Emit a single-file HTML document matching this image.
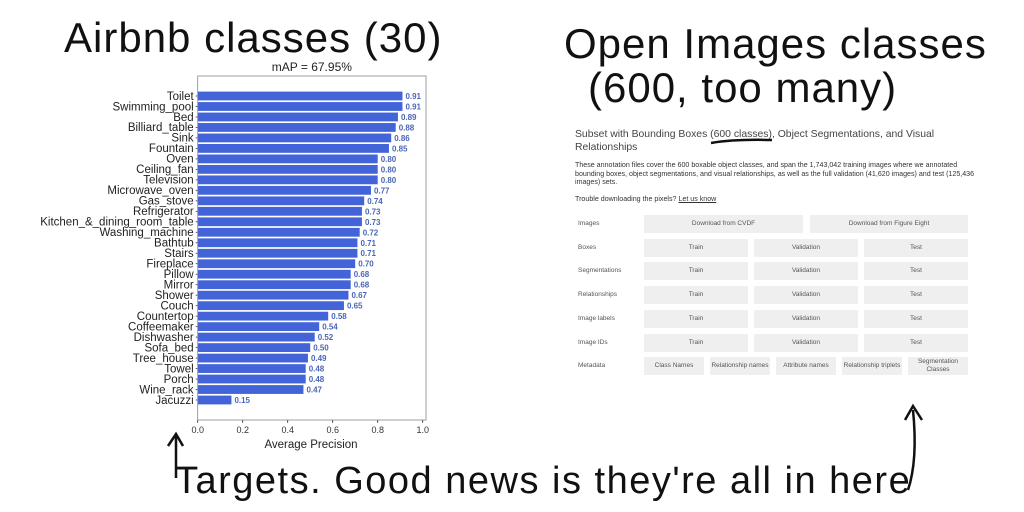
<!DOCTYPE html>
<html><head><meta charset="utf-8"><style>
body{margin:0;width:1024px;height:512px;background:#fff;overflow:hidden;position:relative;font-family:"Liberation Sans",sans-serif}
.hand{position:absolute;font-family:"Liberation Sans",sans-serif;font-weight:300;color:#111;letter-spacing:1px;white-space:nowrap}
.rp{position:absolute;color:#444}
.btn{position:absolute;background:#efefef;font-size:6.5px;color:#555;display:flex;align-items:center;justify-content:center;text-align:center;line-height:8px}
.lbl{position:absolute;font-size:6.5px;color:#555}
</style></head><body>
<div class="hand" style="left:64px;top:14px;font-size:42px;">Airbnb classes (30)</div>
<div class="hand" style="left:564px;top:20px;font-size:42px">Open Images classes</div>
<div class="hand" style="left:588px;top:64px;font-size:42px">(600, too many)</div>
<div class="hand" style="left:175px;top:460px;font-size:38px;letter-spacing:1.5px">Targets. Good news is they're all in here</div>

<svg width="1024" height="512" style="position:absolute;left:0;top:0">
<path d="M176 478 L176 436 M168 446 L176 434 L183 446" stroke="#111" stroke-width="2.5" fill="none"/>
<path d="M908 490 Q918 460 913 410 M905 420 L913 406 L922 420" stroke="#111" stroke-width="2.5" fill="none"/>
<path d="M711 143 Q735 139 772 140" stroke="#111" stroke-width="2.5" fill="none"/>
</svg>

<svg id="chart" width="460" height="460" style="position:absolute;left:0;top:0"></svg>

<div class="rp" style="left:575px;top:128px;font-size:10.4px;line-height:13px;width:390px">Subset with Bounding Boxes (600 classes), Object Segmentations, and Visual Relationships</div>
<div class="rp" style="left:575px;top:161px;font-size:7.1px;line-height:8.6px;width:405px;color:#333">These annotation files cover the 600 boxable object classes, and span the 1,743,042 training images where we annotated bounding boxes, object segmentations, and visual relationships, as well as the full validation (41,620 images) and test (125,436 images) sets.</div>
<div class="rp" style="left:575px;top:195px;font-size:7.1px;color:#333">Trouble downloading the pixels? <u>Let us know</u></div>
<div id="table"></div>

<script>
const categories=["Toilet","Swimming_pool","Bed","Billiard_table","Sink","Fountain","Oven","Ceiling_fan","Television","Microwave_oven","Gas_stove","Refrigerator","Kitchen_&_dining_room_table","Washing_machine","Bathtub","Stairs","Fireplace","Pillow","Mirror","Shower","Couch","Countertop","Coffeemaker","Dishwasher","Sofa_bed","Tree_house","Towel","Porch","Wine_rack","Jacuzzi"];
const values=[0.91,0.91,0.89,0.88,0.86,0.85,0.80,0.80,0.80,0.77,0.74,0.73,0.73,0.72,0.71,0.71,0.70,0.68,0.68,0.67,0.65,0.58,0.54,0.52,0.50,0.49,0.48,0.48,0.47,0.15];
const xTicks=[0,0.2,0.4,0.6,0.8,1.0];
const xTickLabels=["0.0","0.2","0.4","0.6","0.8","1.0"];
const NS="http://www.w3.org/2000/svg";
const svg=document.getElementById('chart');
const X0=197.7,X1=422.7,Y0=76,Y1=420;
const x=v=>X0+v*(X1-X0);
const y=i=>96+i*(400-96)/(categories.length-1);
function mk(t,a,txt){const e=document.createElementNS(NS,t);for(const k in a)e.setAttribute(k,a[k]);if(txt!==undefined)e.textContent=txt;svg.appendChild(e);return e;}
let t=mk('text',{x:(X0+426)/2,y:71,'text-anchor':'middle','font-size':12,fill:'#222'},'mAP = 67.95%');


categories.forEach((c,i)=>{
 let r=mk('rect',{x:X0,y:y(i)-4.4,width:x(values[i])-X0,height:8.8,fill:'#4363d8'});
 
 
 let l=mk('text',{x:X0-4,y:y(i)+3.8,'text-anchor':'end','font-size':11.5,fill:'#222'},c);
 
 
 mk('line',{x1:X0-2,x2:X0,y1:y(i),y2:y(i),stroke:'#333','stroke-width':0.8});
 let v=mk('text',{x:x(values[i])+3,y:y(i)+3,'font-size':8,'font-weight':'bold',fill:'#4a66b8'},values[i].toFixed(2));
 
 
});
let ax=mk('rect',{x:X0,y:Y0,width:426-X0,height:Y1-Y0,fill:'none',stroke:'#888','stroke-width':0.8});


xTicks.forEach((v,i)=>{
 mk('line',{x1:x(v),x2:x(v),y1:Y1,y2:Y1+3,stroke:'#333','stroke-width':0.8});
 let tl=mk('text',{x:x(v),y:433,'text-anchor':'middle','font-size':9,fill:'#333'},xTickLabels[i]);
 
 
});
let xt=mk('text',{x:311,y:448,'text-anchor':'middle','font-size':11.5,fill:'#222'},'Average Precision');



const tb=document.getElementById('table');
const rows=["Images","Boxes","Segmentations","Relationships","Image labels","Image IDs","Metadata"];
rows.forEach((r,i)=>{
 const cy=224+i*23.7;
 const L=document.createElement('div');L.className='lbl';L.style.left='578px';L.style.top=(cy-4)+'px';L.textContent=r;
 
 
 tb.appendChild(L);
 let cells;
 if(i==0)cells=[[644,803,"Download from CVDF"],[810,968,"Download from Figure Eight"]];
 else if(i==6)cells=[[644,704,"Class Names"],[710,770,"Relationship names"],[776,836,"Attribute names"],[842,902,"Relationship triplets"],[908,968,"Segmentation Classes"]];
 else cells=[[644,748,"Train"],[754,858,"Validation"],[864,968,"Test"]];
 cells.forEach(c=>{
  const b=document.createElement('div');b.className='btn';
  b.style.left=c[0]+'px';b.style.width=(c[1]-c[0])+'px';b.style.top=(cy-9)+'px';b.style.height='18px';b.textContent=c[2];
  
  
  tb.appendChild(b);
 });
});
</script>
</body></html>
